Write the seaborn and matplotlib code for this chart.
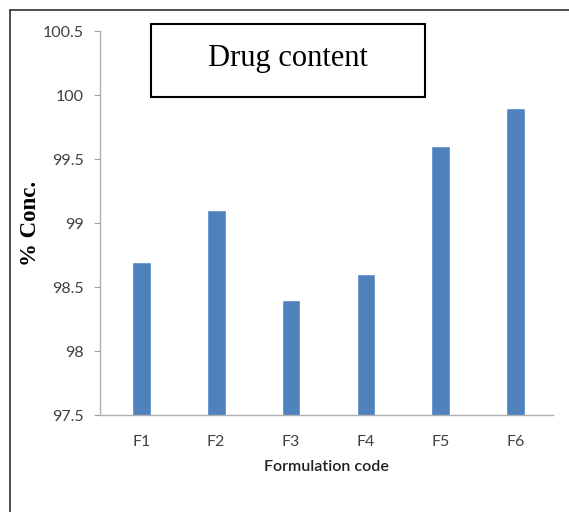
import matplotlib
matplotlib.use("Agg")
import matplotlib.pyplot as plt
import seaborn as sns
import pandas as pd
from matplotlib.lines import Line2D
from matplotlib.patches import Rectangle

# ------------------------------------------------------------
# Data
# ------------------------------------------------------------
formulations = ["F1", "F2", "F3", "F4", "F5", "F6"]
drug_content = [98.7, 99.1, 98.4, 98.6, 99.6, 99.9]
y_ticks = [97.5, 98, 98.5, 99, 99.5, 100, 100.5]
y_tick_labels = ["97.5", "98", "98.5", "99", "99.5", "100", "100.5"]

df = pd.DataFrame({"code": formulations, "conc": drug_content})

sns.set_style("white")
plt.rcParams["font.family"] = ["Lato", "DejaVu Sans"]

fig = plt.figure(figsize=(5.69, 5.12), dpi=100)
ax = fig.add_axes([0.176, 0.189, 0.796, 0.750])

sns.barplot(data=df, x="code", y="conc", color="#4f81bd", width=0.25,
            saturation=1, ax=ax)

ax.set_ylim(97.5, 100.5)
ax.set_yticks(y_ticks)
ax.set_yticklabels(y_tick_labels)
ax.set_xlim(-0.55, 5.5)

ax.tick_params(axis="y", length=4, color="#a0a0a0", labelsize=11.5,
               labelcolor="#404040", pad=8, left=True)
ax.tick_params(axis="x", length=0, labelsize=11.5, labelcolor="#404040", pad=14)

for side in ["top", "right"]:
    ax.spines[side].set_visible(False)
for side in ["left", "bottom"]:
    ax.spines[side].set_color("#b0b0b0")
    ax.spines[side].set_linewidth(1.0)

ax.set_xlabel("Formulation code", fontsize=11.5, fontweight="semibold",
              color="#202020", labelpad=8)
ax.set_ylabel("% Conc.", fontsize=16.5, fontweight="bold", family="Liberation Serif",
              color="black")
ax.yaxis.set_label_coords(-0.13, 0.5)

# title box
ax.add_patch(Rectangle((0.113, 0.828), 0.604, 0.19, transform=ax.transAxes,
                       facecolor="white", edgecolor="black", linewidth=1.5,
                       clip_on=False, zorder=5))
ax.text(0.415, 0.928, "Drug content", transform=ax.transAxes, ha="center",
        va="center", fontsize=22, family="Liberation Serif", color="black",
        zorder=6)

# outer frame (top and left edges)
fig.add_artist(Line2D([10 / 569, 10 / 569], [0, 1 - 10 / 512],
                      transform=fig.transFigure, color="#303030", linewidth=1.2))
fig.add_artist(Line2D([10 / 569, 1], [1 - 10 / 512, 1 - 10 / 512],
                      transform=fig.transFigure, color="#303030", linewidth=1.2))

fig.savefig("out.png", dpi=100)
